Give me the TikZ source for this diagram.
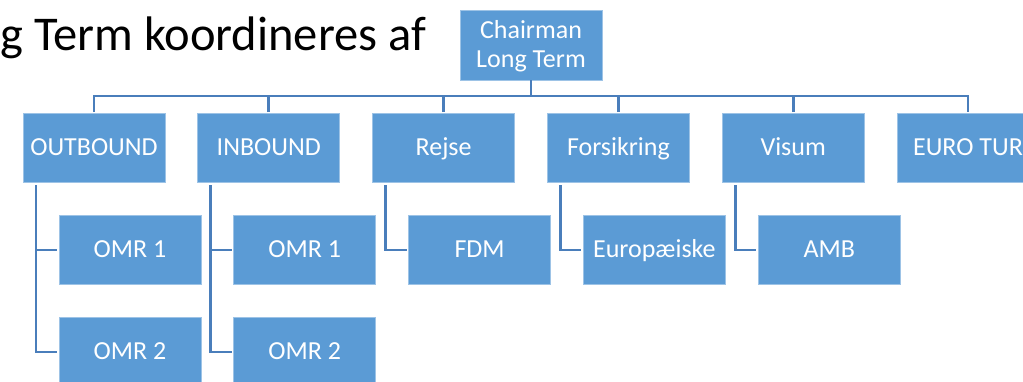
\documentclass[tikz,border=0pt]{standalone}
\usepackage{fontspec}
\setmainfont{Carlito}
\definecolor{boxblue}{HTML}{5B9BD5}
\definecolor{linkblue}{HTML}{4A7EBB}
\definecolor{edgeblue}{HTML}{9DC3E6}
\begin{document}
\begin{tikzpicture}[x=1pt,y=-1pt,
  orgbox/.style={rectangle, fill=boxblue, draw=edgeblue, line width=0.8pt,
    minimum width=142pt, minimum height=69pt, inner sep=0pt, outer sep=0pt,
    text height=18pt, text depth=3pt,
    text=white, font=\fontsize{26}{29}\selectfont, align=center},
  link/.style={draw=linkblue, line width=2.8pt}]
\clip (0,0) rectangle (1023,381);
\fill[white] (0,0) rectangle (1023,381);
\node[anchor=base west, inner sep=0pt, font=\fontsize{48.5}{58}\selectfont] (title) at (0,50) {g Term koordineres af};
\node[orgbox, minimum height=70pt, text height=47pt] (chair) at (531,45) {Chairman\\Long Term};
\coordinate (bus) at (0,96);
% level 1
\node[orgbox] (out)   at (94,147.5)    {OUTBOUND};
\node[orgbox] (in)    at (268.8,147.5) {INBOUND};
\node[orgbox] (rejse) at (443.6,147.5) {Rejse};
\node[orgbox] (fors)  at (618.4,147.5) {Forsikring};
\node[orgbox] (visum) at (793.2,147.5) {Visum};
\node[orgbox] (euro)  at (968,147.5)   {EURO TUR};
% level 2
\node[orgbox] (out1) at (130,250)   {OMR 1};
\node[orgbox] (out2) at (130,352)   {OMR 2};
\node[orgbox] (in1)  at (304.8,250) {OMR 1};
\node[orgbox] (in2)  at (304.8,352) {OMR 2};
\node[orgbox] (fdm)  at (479.6,250) {FDM};
\node[orgbox] (euro1) at (654.4,250) {Europæiske};
\node[orgbox] (amb)  at (829.2,250) {AMB};
% connectors
\draw[link] (chair.south) -- (chair.south |- bus);
\draw[link] ([yshift=1pt]out.north) -- (out.north |- bus) -- (euro.north |- bus) -- ([yshift=1pt]euro.north);
\foreach \n in {in,rejse,fors,visum}
  \draw[link] ([yshift=1pt]\n.north) -- (\n.north |- bus);
\draw[link] ([xshift=13pt,yshift=-3pt]out.south west) |- ([xshift=-2pt]out1.west);
\draw[link] ([xshift=13pt,yshift=-3pt]out.south west) |- ([xshift=-2pt]out2.west);
\draw[link] ([xshift=13pt,yshift=-3pt]in.south west) |- ([xshift=-2pt]in1.west);
\draw[link] ([xshift=13pt,yshift=-3pt]in.south west) |- ([xshift=-2pt]in2.west);
\draw[link] ([xshift=13pt,yshift=-3pt]rejse.south west) |- ([xshift=-2pt]fdm.west);
\draw[link] ([xshift=13pt,yshift=-3pt]fors.south west) |- ([xshift=-2pt]euro1.west);
\draw[link] ([xshift=13pt,yshift=-3pt]visum.south west) |- ([xshift=-2pt]amb.west);
\end{tikzpicture}
\end{document}
